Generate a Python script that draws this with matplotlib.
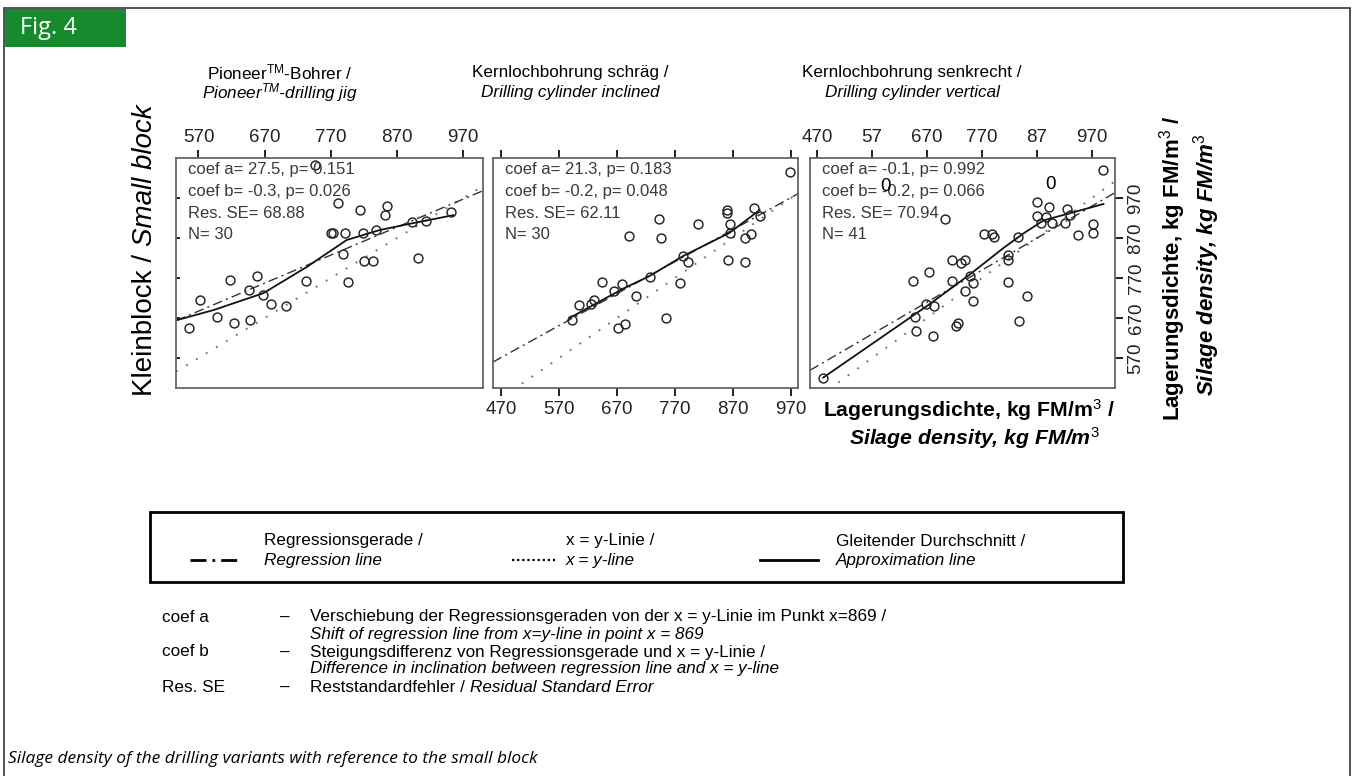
import matplotlib
matplotlib.use("Agg")
import matplotlib.pyplot as plt
import numpy as np
from matplotlib.patches import Rectangle
from matplotlib.lines import Line2D

W, H = 1354, 776

# --- data (kg FM/m^3)
P1_X = [555, 572, 598, 623, 617, 648, 646, 658, 668, 679, 702, 732, 746, 781, 814,
        855, 852, 770, 773, 791, 789, 796, 819, 839, 820, 834, 902, 892, 914, 952]
P1_Y = [644, 715, 673, 657, 765, 665, 740, 775, 727, 705, 700, 762, 1052, 957, 940,
        950, 927, 883, 882, 883, 830, 761, 882, 890, 813, 813, 821, 911, 913, 936]
P1_SM_X = [538, 593, 668, 734, 794, 844, 894, 955]
P1_SM_Y = [665, 690, 732, 798, 865, 890, 907, 927]

P2_X = [592, 605, 625, 631, 644, 665, 679, 671, 683, 703, 690, 726, 743, 746, 754,
        778, 784, 792, 809, 860, 860, 865, 865, 861, 890, 901, 890, 906, 916, 968]
P2_Y = [664, 702, 706, 714, 761, 738, 755, 646, 656, 726, 875, 772, 917, 870, 671,
        758, 825, 809, 904, 940, 932, 904, 883, 815, 871, 879, 811, 946, 925, 1036]
P2_SM_X = [588, 680, 726, 784, 864, 916]
P2_SM_Y = [670, 743, 775, 825, 883, 940]

P3_X = [481, 991, 703, 645, 673, 648, 650, 681, 682, 668, 716, 716, 739, 731, 748,
        754, 739, 753, 723, 727, 774, 788, 791, 836, 818, 818, 818, 851, 838, 870,
        892, 870, 887, 877, 897, 924, 930, 921, 945, 972, 972]
P3_Y = [521, 1041, 918, 763, 785, 672, 637, 626, 701, 705, 814, 763, 814, 808, 775,
        758, 738, 713, 650, 657, 881, 881, 873, 873, 828, 816, 760, 726, 662, 961,
        947, 925, 923, 907, 907, 943, 927, 907, 877, 906, 883]
P3_SM_X = [481, 675, 748, 809, 845, 882, 991]
P3_SM_Y = [521, 705, 779, 845, 881, 914, 955]

COEF_A = [27.5, 21.3, -0.1]
COEF_B = [-0.3, -0.2, -0.2]
INFO = [
    ["coef a= 27.5, p= 0.151", "coef b= -0.3, p= 0.026", "Res. SE= 68.88", "N= 30"],
    ["coef a= 21.3, p= 0.183", "coef b= -0.2, p= 0.048", "Res. SE= 62.11", "N= 30"],
    ["coef a= -0.1, p= 0.992", "coef b= -0.2, p= 0.066", "Res. SE= 70.94", "N= 41"],
]
TITLES = [
    (r"Pioneer$^{\mathrm{TM}}$-Bohrer /", r"Pioneer$^{TM}$-drilling jig"),
    ("Kernlochbohrung schräg /", "Drilling cylinder inclined"),
    ("Kernlochbohrung senkrecht /", "Drilling cylinder vertical"),
]
TICKS_1 = [570, 670, 770, 870, 970]
TICKS_2 = [470, 570, 670, 770, 870, 970]
TICK_LABELS_3 = ["470", "57", "670", "770", "87", "970"]
YTICKS = [570, 670, 770, 870, 970]

SANS = ["Liberation Sans", "DejaVu Sans"]
CAP = ["Open Sans", "DejaVu Sans"]
plt.rcParams["font.family"] = SANS
plt.rcParams["mathtext.fontset"] = "custom"
plt.rcParams["mathtext.rm"] = "Liberation Sans"
plt.rcParams["mathtext.it"] = "Liberation Sans:italic"
plt.rcParams["mathtext.bf"] = "Liberation Sans:bold"

fig = plt.figure(figsize=(W / 100, H / 100), dpi=100)


def ftext(x, y, s, **kw):
    return fig.text(x / W, 1 - y / H, s, **kw)


def fax(left, top, right, bottom):
    return fig.add_axes([left / W, 1 - bottom / H, (right - left) / W, (bottom - top) / H])


# outer frame and figure tag
fig.patches.append(Rectangle((4 / W, -0.05), 1346 / W, 1.05 - 8 / H, transform=fig.transFigure,
                             fill=False, ec="#333333", lw=1.2))
fig.patches.append(Rectangle((5 / W, 1 - 47 / H), 121 / W, 38 / H, transform=fig.transFigure,
                             fc="#178a2e", ec="none"))
ftext(20, 28, "Fig. 4", color="white", fontsize=17, va="center", family=CAP)

boxes = [(176, 158, 483, 388), (493, 158, 798, 388), (810, 158, 1115, 388)]
title_cx = [280, 570, 912]
xlims = [(536, 1000), (456, 982), (457, 1012)]
data = [(P1_X, P1_Y, P1_SM_X, P1_SM_Y), (P2_X, P2_Y, P2_SM_X, P2_SM_Y),
        (P3_X, P3_Y, P3_SM_X, P3_SM_Y)]
axes = []
for i in range(3):
    ax = fax(*boxes[i])
    xs, ys, smx, smy = data[i]
    xx = np.array(xlims[i], dtype=float)
    ax.plot(xx, xx, ls=(0, (1, 5)), color="#777777", lw=1.4)
    ax.plot(xx, 869 + COEF_A[i] + (1 + COEF_B[i]) * (xx - 869), ls=(0, (7, 3, 1.5, 3)),
            color="#333333", lw=1.0)
    ax.plot(smx, smy, color="#111111", lw=1.3)
    ax.plot(xs, ys, "o", mfc="none", mec="#222222", ms=6.4, mew=1.05)
    for k, line in enumerate(INFO[i]):
        ax.text(0.04, 0.948 - k * 0.094, line, transform=ax.transAxes, fontsize=12,
                color="#3f3834", va="center")
    ax.set_xlim(*xlims[i])
    ax.set_ylim(495, 1070)
    for s in ax.spines.values():
        s.set_color("#666666")
        s.set_linewidth(1.3)
    ax.tick_params(labelsize=13.5, colors="#222222", length=6, width=1.4, pad=3)
    axes.append(ax)
    t1, t2 = TITLES[i]
    ftext(title_cx[i], 72, t1, fontsize=12.3, ha="center", va="center")
    ftext(title_cx[i], 93, t2, fontsize=12.3, ha="center", va="center", style="italic")

ax1, ax2, ax3 = axes
ax1.xaxis.tick_top()
ax1.set_xticks(TICKS_1)
ax1.set_yticks(YTICKS)
ax1.tick_params(axis="y", direction="in", length=3, labelleft=False)

ax2.set_xticks(TICKS_2)
ax2.tick_params(axis="x", top=True, labeltop=False, bottom=True, labelbottom=True)
ax2.set_yticks([])

ax3.xaxis.tick_top()
ax3.set_xticks(TICKS_2)
ax3.set_xticklabels(TICK_LABELS_3)
ax3.yaxis.tick_right()
ax3.set_yticks(YTICKS)
ax3.tick_params(axis="y", labelrotation=90)
for lab in ax3.get_yticklabels():
    lab.set_va("center")
ax3.text(0.246, 0.874, "0", transform=ax3.transAxes, fontsize=13.5, ha="center", va="center")
ax3.text(0.79, 0.883, "0", transform=ax3.transAxes, fontsize=13.5, ha="center", va="center")

# axis labels
fig.canvas.draw()
t = ftext(145, 396, "Kleinblock / ", rotation=90, rotation_mode="anchor", ha="left", va="center",
          fontsize=20)
fig.canvas.draw()
bb = t.get_window_extent()
fig.text(145 / W, bb.y1 / H, "Small block", rotation=90, rotation_mode="anchor", ha="left",
         va="center", fontsize=20, style="italic")

ftext(823, 410, r"Lagerungsdichte, kg FM/m$^{3}$ /", fontsize=15.3, weight="bold", va="center")
ftext(1100, 438, r"Silage density, kg FM/m$^{3}$", fontsize=15.3, weight="bold", style="italic",
      ha="right", va="center")
ftext(1173, 268, r"Lagerungsdichte, kg FM/m$^{3}$ /", fontsize=16, weight="bold", rotation=90,
      ha="center", va="center")
ftext(1207, 265, r"Silage density, kg FM/m$^{3}$", fontsize=16, weight="bold", style="italic",
      rotation=90, ha="center", va="center")

# legend box
fig.patches.append(Rectangle((150 / W, 1 - 582 / H), 973 / W, 70 / H, transform=fig.transFigure,
                             fill=False, ec="black", lw=2))
samples = [((190, 241), (0, (5.75, 2.15, 1, 2.15)), 2.0),
           ((512, 556), (0, (1, 1.3)), 1.6),
           ((760, 818), "-", 2.0)]
for (x0, x1), ls, lw in samples:
    fig.add_artist(Line2D([x0 / W, x1 / W], [1 - 560 / H] * 2, transform=fig.transFigure,
                          color="black", ls=ls, lw=lw))
leg_txt = [(264, "Regressionsgerade /", "Regression line"),
           (566, "x = y-Linie /", "x = y-line"),
           (836, "Gleitender Durchschnitt /", "Approximation line")]
for x, a, b in leg_txt:
    ftext(x, 541, a, fontsize=12.3, va="center")
    ftext(x, 560, b, fontsize=12.3, va="center", style="italic")

# definitions
defs = [(617, "coef a", "Verschiebung der Regressionsgeraden von der x = y-Linie im Punkt x=869 /", False),
        (634, "", "Shift of regression line from x=y-line in point x = 869", True),
        (652, "coef b", "Steigungsdifferenz von Regressionsgerade und x = y-Linie /", False),
        (669, "", "Difference in inclination between regression line and x = y-line", True)]
for y, k, s, it in defs:
    if k:
        ftext(162, y, k, fontsize=12.3, va="center")
        ftext(280, y, "–", fontsize=12.3, va="center")
    ftext(310, y, s, fontsize=12.3, va="center", style="italic" if it else "normal")
ftext(162, 687, "Res. SE", fontsize=12.3, va="center")
ftext(280, 687, "–", fontsize=12.3, va="center")
t = ftext(310, 687, "Reststandardfehler / ", fontsize=12.3, va="center")
fig.canvas.draw()
bb = t.get_window_extent()
fig.text(bb.x1 / W, 1 - 687 / H, "Residual Standard Error", fontsize=12.3, va="center",
         style="italic")

ftext(8, 759, "Silage density of the drilling variants with reference to the small block",
      fontsize=12.5, family=CAP, style="italic", va="center")

fig.savefig("out.png", dpi=100)
